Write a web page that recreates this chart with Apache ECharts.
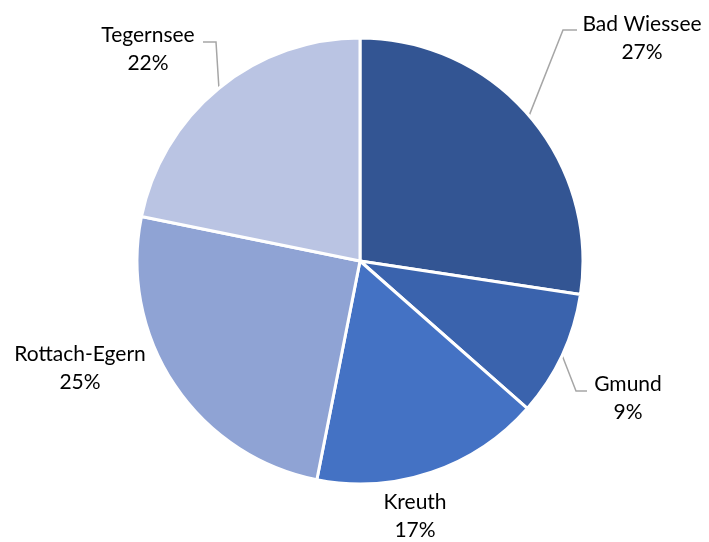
<!DOCTYPE html>
<html>
<head>
<meta charset="utf-8">
<script src="https://cdn.jsdelivr.net/npm/echarts@6/dist/echarts.min.js"></script>
<style>html,body{margin:0;padding:0;background:#fff;}#c{width:709px;height:542px;}</style>
</head>
<body>
<div id="c"></div>
<script>
const categories = ['Bad Wiessee', 'Gmund', 'Kreuth', 'Rottach-Egern', 'Tegernsee'];
const values = [27.4, 9.1, 16.6, 25.1, 21.8];
const colors = ['#335593', '#3A63AD', '#4472C4', '#8FA3D4', '#BAC4E3'];

// Label placement (text-block centre and leader-line elbow/end), in pixels
const labelPlacement = [
  { cx: 642, cy: 38,  line: [[563, 30], [577, 30]] },
  { cx: 628, cy: 398, line: [[576, 391], [587, 391]] },
  { cx: 415, cy: 516, line: null },
  { cx: 80,  cy: 368, line: null },
  { cx: 148, cy: 49,  line: [[216, 42], [203, 42]] }
];

const chart = echarts.init(document.getElementById('c'));
chart.setOption({
  animation: false,
  backgroundColor: '#fff',
  series: [{
    type: 'pie',
    center: [360, 261],
    radius: [0, 223],
    startAngle: 90,
    clockwise: true,
    percentPrecision: 0,
    data: categories.map((n, i) => ({
      name: n, value: values[i],
      itemStyle: { color: colors[i] },
      labelLine: { show: !!labelPlacement[i].line }
    })),
    itemStyle: { borderColor: '#fff', borderWidth: 3 },
    label: {
      show: true,
      position: 'outside',
      formatter: '{b}\n{d}%',
      fontFamily: 'Lato',
      fontSize: 21,
      lineHeight: 28,
      color: '#000'
    },
    labelLine: { show: true, length: 20, length2: 10, lineStyle: { color: '#A6A6A6', width: 1.5 } },
    labelLayout: function (params) {
      const p = labelPlacement[params.dataIndex];
      const res = { x: p.cx, y: p.cy, align: 'center', verticalAlign: 'middle' };
      if (p.line && params.labelLinePoints) {
        res.labelLinePoints = [params.labelLinePoints[0], p.line[0], p.line[1]];
      }
      return res;
    }
  }]
});
</script>
</body>
</html>
